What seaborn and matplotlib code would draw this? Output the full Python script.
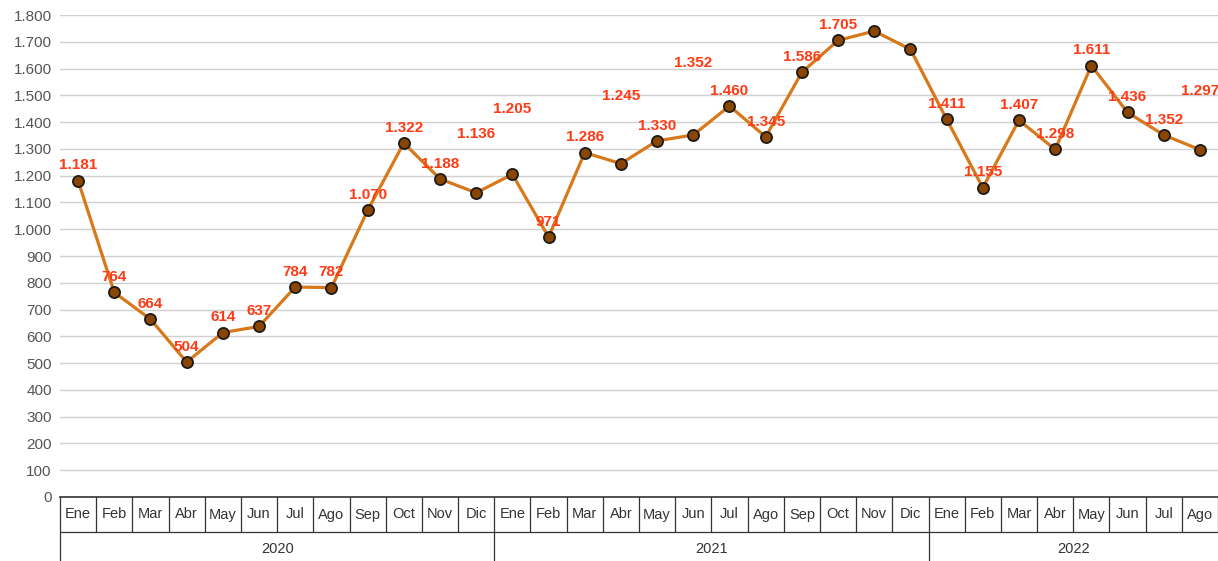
import numpy as np
import pandas as pd
import matplotlib
matplotlib.use("Agg")
import matplotlib.pyplot as plt
import seaborn as sns

# data
months = ["Ene", "Feb", "Mar", "Abr", "May", "Jun", "Jul", "Ago", "Sep", "Oct", "Nov", "Dic"]
years = ["2020", "2021", "2022"]
month_labels = months * 2 + months[:8]
year_of_point = ["2020"] * 12 + ["2021"] * 12 + ["2022"] * 8
values = [1181, 764, 664, 504, 614, 637, 784, 782, 1070, 1322, 1188, 1136,
          1205, 971, 1286, 1245, 1330, 1352, 1460, 1345, 1586, 1705, 1740, 1672,
          1411, 1155, 1407, 1298, 1611, 1436, 1352, 1297]

# label styling (which labels float higher / are missing in the original)
label_lift = {11: 42, 12: 47, 15: 49, 17: 52, 31: 42}
label_hidden = {22, 23}

df = pd.DataFrame({"idx": np.arange(len(values)), "value": values,
                   "month": month_labels, "year": year_of_point})

sns.set_theme(style="white")
plt.rcParams["font.family"] = ["Liberation Sans", "DejaVu Sans"]

W, H = 1218, 561
fig = plt.figure(figsize=(W / 100, H / 100), dpi=100)
ax = fig.add_axes([60 / W, (H - 497) / H, (W - 60) / W, (497 - 15) / H])

sns.lineplot(data=df, x="idx", y="value", ax=ax, color="#d7791a", linewidth=2.3,
             marker="o", markersize=8, markerfacecolor="#8a4500",
             markeredgecolor="#1a1a1a", markeredgewidth=1.3, zorder=3)

ax.set_xlim(-0.5, len(values) - 0.5)
ax.set_ylim(0, 1800)
ax.set_yticks(np.arange(0, 1801, 100))
ax.set_yticklabels([f"{t:,}".replace(",", ".") for t in range(0, 1801, 100)],
                   fontsize=11, color="#555555")
ax.tick_params(axis="y", length=0, pad=6)
ax.yaxis.grid(True, color="#d0d0d0", linewidth=1)
ax.set_axisbelow(True)
for s in ["left", "right", "top"]:
    ax.spines[s].set_visible(False)
ax.spines["bottom"].set_color("#333333")
ax.spines["bottom"].set_linewidth(1.2)
ax.set_xlabel("")
ax.set_ylabel("")

# value labels
for i, v in enumerate(values):
    if i in label_hidden:
        continue
    ax.annotate(f"{v:,}".replace(",", "."), (i, v),
                xytext=(0, label_lift.get(i, 11)), textcoords="offset points",
                ha="center", va="center", fontsize=11, fontweight="bold",
                color="#ff3a14", annotation_clip=False, zorder=4)

# two-level category axis drawn as a table below the plot
ax.set_xticks([])
tr = ax.get_xaxis_transform()
row1 = -35 / 482
row2 = -64 / 482
for i, m in enumerate(month_labels):
    ax.text(i, row1 / 2, m, transform=tr, ha="center", va="center",
            fontsize=10.5, color="#333333")
for b in range(len(values) + 1):
    x = b - 0.5
    bottom = row2 if (b % 12 == 0 or b == 0) else row1
    if b == len(values):
        bottom = row1
    ax.plot([x, x], [0, bottom], transform=tr, color="#333333", lw=0.9,
            clip_on=False)
ax.plot([-0.5, len(values) - 0.5], [row1, row1], transform=tr,
        color="#333333", lw=0.9, clip_on=False)
for k, y in enumerate(years):
    start = k * 12
    end = min(start + 12, len(values))
    ax.text((start + end - 1) / 2, (row1 + row2) / 2 - 0.005, y, transform=tr,
            ha="center", va="center", fontsize=10.5, color="#333333")

fig.savefig("out.png", dpi=100)
